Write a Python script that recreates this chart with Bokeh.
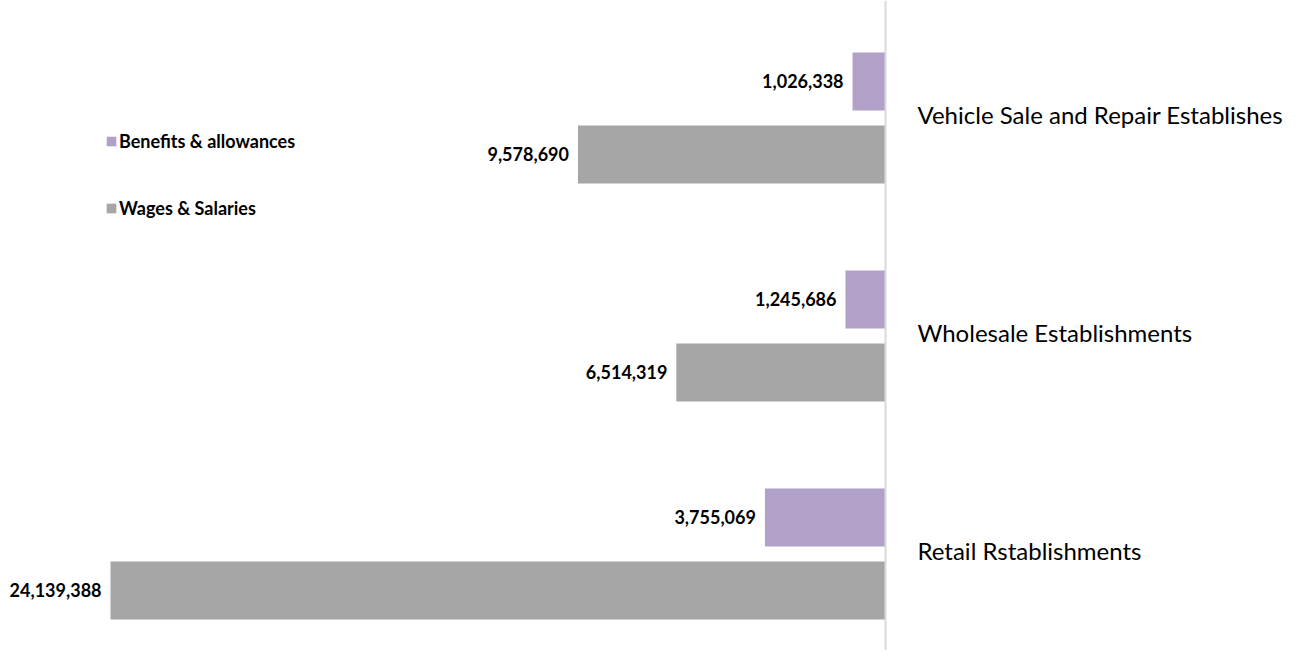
from bokeh.plotting import figure
from bokeh.models import Range1d, ColumnDataSource, Legend, LegendItem, Span
from bokeh.core.properties import value
from bokeh.embed import file_html
from bokeh.resources import INLINE

categories = ["Retail Rstablishments", "Wholesale Establishments", "Vehicle Sale and Repair Establishes"]
benefits = [3755069, 1245686, 1026338]
wages = [24139388, 6514319, 9578690]
series_names = ["Benefits & allowances", "Wages & Salaries"]
colors = ["#b1a0c7", "#a6a6a6"]

idx = list(range(len(categories)))
off = 0.1674
bh = 0.266

p = figure(width=1288, height=650, x_range=Range1d(-27.566e6, 12.553e6),
           y_range=Range1d(-0.443, 2.539), output_backend="svg",
           toolbar_location=None, min_border=0)
p.axis.visible = False
p.grid.visible = False
p.outline_line_color = None

src_b = ColumnDataSource(dict(y=[i + off for i in idx], left=[-v for v in benefits],
                              right=[0] * len(idx), lab=[f"{v:,}" for v in benefits]))
src_w = ColumnDataSource(dict(y=[i - off for i in idx], left=[-v for v in wages],
                              right=[0] * len(idx), lab=[f"{v:,}" for v in wages]))

rb = p.hbar(y="y", left="left", right="right", height=bh, source=src_b,
            fill_color=colors[0], line_color=None)
rw = p.hbar(y="y", left="left", right="right", height=bh, source=src_w,
            fill_color=colors[1], line_color=None)

for src in (src_b, src_w):
    p.text(x="left", y="y", text="lab", source=src, text_align="right",
           text_baseline="middle", x_offset=-9, text_font=value("Lato"),
           text_font_style="bold", text_font_size="18px", text_color="#000000")

p.add_layout(Span(location=0, dimension="height", line_color="#d9d9d9", line_width=2))

cat_src = ColumnDataSource(dict(x=[0] * len(idx), y=idx, t=categories))
p.text(x="x", y="y", text="t", source=cat_src, text_align="left",
       text_baseline="middle", x_offset=32, y_offset=-3, text_font=value("Lato"),
       text_font_size="24px", text_color="#000000")

legend = Legend(items=[LegendItem(label=series_names[0], renderers=[rb]),
                       LegendItem(label=series_names[1], renderers=[rw])],
                location=(105, 431), orientation="vertical", padding=0, margin=0,
                border_line_color=None, background_fill_alpha=0,
                glyph_width=12, glyph_height=12, label_standoff=2,
                label_height=22, spacing=45,
                label_text_font="Lato", label_text_font_style="bold",
                label_text_font_size="18px", label_text_color="#000000")
p.add_layout(legend)

open("out.html", "w").write(file_html(p, INLINE))
